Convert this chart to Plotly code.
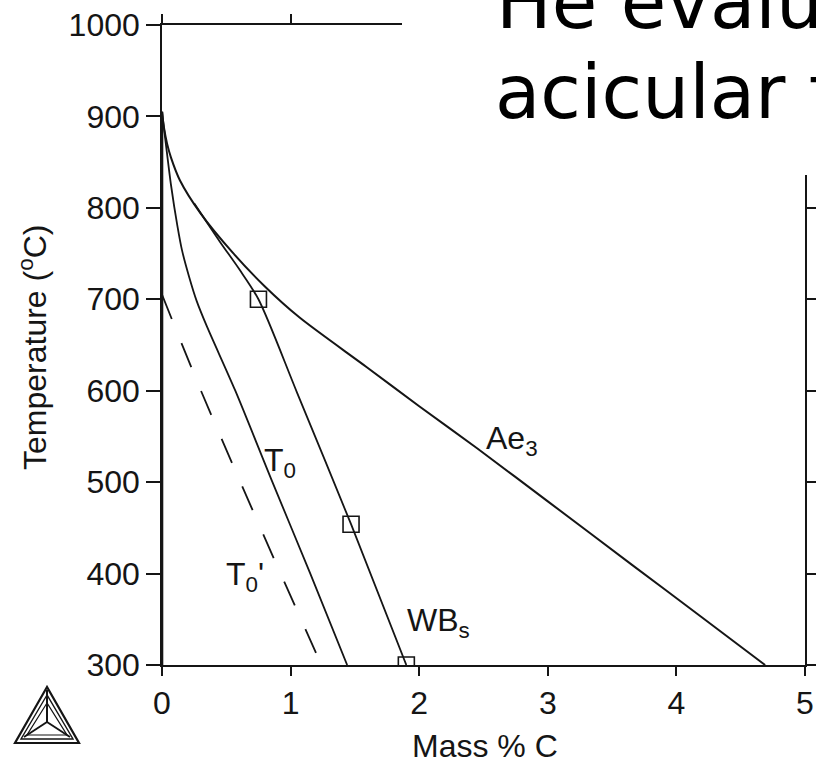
import plotly.graph_objects as go

# ---------------- data ----------------
ae3_c = [0.00, 0.015, 0.04, 0.07, 0.14, 0.30, 0.55, 0.80, 1.07, 1.59, 2.00, 2.45, 3.00, 3.66, 4.20, 4.69]
ae3_t = [905, 888, 870, 855, 830, 794, 751, 714, 680, 626, 583, 537, 479, 409, 352, 300]

wbs_c = [0.25, 0.45, 0.60, 0.75, 1.05, 1.47, 1.90]
wbs_t = [805, 763, 733, 700, 598, 454, 300]

wbs_pts_c = [0.75, 1.47, 1.90]
wbs_pts_t = [700, 454, 300]

t0_c = [0.00, 0.03, 0.07, 0.12, 0.155, 0.21, 0.27, 0.35, 0.57, 0.85, 1.15, 1.44]
t0_t = [905, 870, 825, 780, 754, 725, 698, 670, 600, 503, 401, 300]

t0p_c = [0.00, 0.30, 0.60, 0.90, 1.24]
t0p_t = [705, 601, 503, 407, 300]

ferrite_c = [0, 0]
ferrite_t = [905, 300]

x_ticks = [0, 1, 2, 3, 4, 5]
y_ticks = [300, 400, 500, 600, 700, 800, 900, 1000]

# ---------------- layout helpers ----------------
W, H = 816, 763
ML, MR, MT, MB = 162, 11, 25, 98
PW = W - ML - MR
PH = H - MT - MB
INK = "#151515"
FONT = "Liberation Sans, Arial, sans-serif"


def xp(pix):
    return (pix - ML) / PW


def yp(pix):
    return (H - MB - pix) / PH


fig = go.Figure()

fig.add_trace(go.Scatter(x=ferrite_c, y=ferrite_t, mode="lines",
                         line=dict(color=INK, width=2.6), showlegend=False))
fig.add_trace(go.Scatter(x=ae3_c, y=ae3_t, mode="lines",
                         line=dict(color=INK, width=2.0, shape="spline", smoothing=0.8),
                         showlegend=False))
fig.add_trace(go.Scatter(x=wbs_c, y=wbs_t, mode="lines",
                         line=dict(color=INK, width=1.8, shape="spline", smoothing=0.8),
                         showlegend=False))
fig.add_trace(go.Scatter(x=t0_c, y=t0_t, mode="lines",
                         line=dict(color=INK, width=1.8, shape="spline", smoothing=0.8),
                         showlegend=False))
fig.add_trace(go.Scatter(x=t0p_c, y=t0p_t, mode="lines",
                         line=dict(color=INK, width=1.8, dash="26px,26px",
                                   shape="spline", smoothing=0.8),
                         showlegend=False))
fig.add_trace(go.Scatter(x=wbs_pts_c, y=wbs_pts_t, mode="markers",
                         marker=dict(symbol="square-open", size=16,
                                     color=INK, line=dict(width=1.6, color=INK)),
                         showlegend=False))

axis_common = dict(showline=True, linecolor=INK, linewidth=1.6, mirror="allticks",
                   ticks="outside", tickcolor=INK, tickwidth=1.6,
                   showgrid=False, zeroline=False,
                   tickfont=dict(family=FONT, size=32, color=INK))

fig.update_xaxes(range=[0, 5], tickvals=x_ticks, ticktext=[str(v) for v in x_ticks],
                 ticklen=9, **axis_common)
fig.update_yaxes(range=[300, 1000], tickvals=y_ticks, ticktext=[str(v) for v in y_ticks],
                 ticklen=14, **axis_common)

shapes = []
# white panel covering upper right (slide overlay)
shapes.append(dict(type="rect", xref="paper", yref="paper",
                   x0=xp(402), x1=xp(830), y0=yp(175), y1=yp(-10),
                   fillcolor="white", line=dict(width=0), layer="above"))


def tri(ax, ay, lx, ly, rx, ry, w):
    return dict(type="path", xref="paper", yref="paper",
                path=f"M {xp(ax)} {yp(ay)} L {xp(lx)} {yp(ly)} L {xp(rx)} {yp(ry)} Z",
                line=dict(color=INK, width=w), layer="above")


# Thermo-Calc style logo
shapes.append(tri(47, 687, 15, 743, 79, 743, 2.2))
shapes.append(tri(47, 695, 21, 739, 73, 739, 1.4))
shapes.append(tri(47, 703, 27, 735, 67, 735, 1.2))
cx, cy = 47, 722
for (ex, ey) in [(47, 690), (24, 737), (70, 737)]:
    shapes.append(dict(type="line", xref="paper", yref="paper",
                       x0=xp(cx), y0=yp(cy), x1=xp(ex), y1=yp(ey),
                       line=dict(color=INK, width=2.0), layer="above"))

annotations = []


def lab(text, lx, my, size=32):
    annotations.append(dict(text=text, xref="paper", yref="paper", x=xp(lx), y=yp(my),
                            xanchor="left", yanchor="middle", showarrow=False,
                            borderpad=0, font=dict(family=FONT, size=size, color=INK)))


lab("Ae<sub>3</sub>", 485, 440)
lab("T<sub>0</sub>", 263, 462)
lab("T<sub>0</sub>'", 225, 576)
lab("WB<sub>s</sub>", 406, 622)

# axis titles
annotations.append(dict(text="Temperature (<sup>o</sup>C)", xref="paper", yref="paper",
                        x=xp(33), y=yp(348), xanchor="center", yanchor="middle",
                        textangle=-90, showarrow=False,
                        font=dict(family=FONT, size=32, color=INK)))
annotations.append(dict(text="Mass % C", xref="paper", yref="paper",
                        x=xp(485), y=yp(746), xanchor="center", yanchor="middle",
                        showarrow=False, font=dict(family=FONT, size=32, color=INK)))

# slide overlay text
annotations.append(dict(text="He evalu", xref="paper", yref="paper",
                        x=xp(495), y=yp(2), xanchor="left", yanchor="middle",
                        showarrow=False, borderpad=0,
                        font=dict(family="DejaVu Sans", size=74, color="black")))
annotations.append(dict(text="acicular f", xref="paper", yref="paper",
                        x=xp(494), y=yp(92), xanchor="left", yanchor="middle",
                        showarrow=False, borderpad=0,
                        font=dict(family="DejaVu Sans", size=74, color="black")))

fig.update_layout(width=W, height=H, margin=dict(l=ML, r=MR, t=MT, b=MB, autoexpand=False),
                  paper_bgcolor="white", plot_bgcolor="white",
                  shapes=shapes, annotations=annotations, showlegend=False)

fig.write_html("out.html")
